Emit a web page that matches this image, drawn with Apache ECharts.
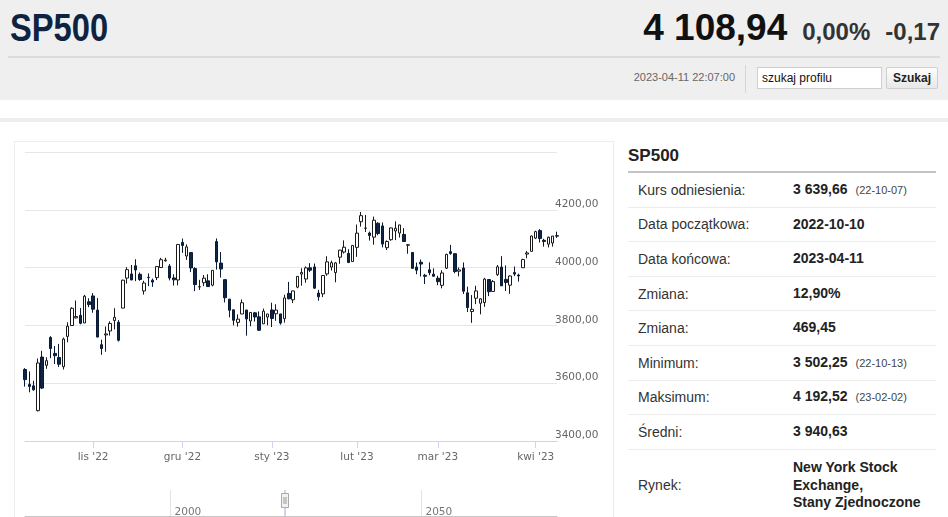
<!DOCTYPE html>
<html lang="pl">
<head>
<meta charset="utf-8">
<title>SP500</title>
<script src="https://cdn.jsdelivr.net/npm/echarts@6/dist/echarts.min.js"></script>
<style>
  body { margin: 0; background: #fff; font-family: "Liberation Sans", Arial, sans-serif; }
  #page { position: relative; width: 948px; height: 517px; overflow: hidden; }
  #hdr { position: absolute; left: 0; top: 0; width: 948px; height: 100px; background: #efefef; }
  #name { position: absolute; left: 10px; top: 9px; font: bold 38px/38px "Liberation Sans", sans-serif; color: #0d2340; transform: scaleX(0.86); transform-origin: left center; }
  #quote { position: absolute; right: 8px; top: 7px; white-space: nowrap; line-height: 42px; color: #333; }
  #quote .price { font: bold 37px "Liberation Sans", sans-serif; color: #111; }
  #quote .chg { font: bold 24px "Liberation Sans", sans-serif; margin-left: 15px; }
  #hline { position: absolute; left: 8px; top: 56px; width: 932px; height: 2px; background: #dcdcdc; }
  #stamp { position: absolute; right: 213px; top: 71px; font-size: 11px; color: #666; }
  #sep { position: absolute; left: 745px; top: 65px; width: 1px; height: 28px; background: #d5d5d5; }
  #search { position: absolute; left: 757px; top: 67px; width: 119px; height: 20px; border: 1px solid #cfcfcf; background: #fff; font-size: 12px; line-height: 20px; padding-left: 4px; color: #111; }
  #btn { position: absolute; left: 886px; top: 67px; width: 50px; height: 20px; border: 1px solid #cfcfcf; background: linear-gradient(#fdfdfd, #e8e8e8); font: bold 12px/20px "Liberation Sans", sans-serif; text-align: center; color: #222; border-radius: 2px; }
  #band { position: absolute; left: 0; top: 118px; width: 948px; height: 4px; background: #eeeeee; }
  #box { position: absolute; left: 14px; top: 141px; width: 598px; height: 400px; border: 1px solid #ececec; }
  #chart { position: absolute; left: 15px; top: 142px; width: 597px; height: 375px; }
  #info { position: absolute; left: 628px; top: 140px; width: 308px; }
  #info .ttl { height: 31px; line-height: 31px; font-weight: bold; font-size: 17px; color: #222; border-bottom: 2px solid #c4c4c4; }
  #info .row { display: flex; align-items: center; height: 33.6px; border-bottom: 1px solid #ececec; font-size: 14px; }
  #info .row.tall { height: 71px; border-bottom: none; }
  #info .lab { width: 155px; padding-left: 10px; color: #333; }
  #info .val { font-weight: bold; color: #222; line-height: 17.5px; }
  #info .val small { font-weight: normal; font-size: 11px; color: #444; margin-left: 8px; }
</style>
</head>
<body>
<div id="page">
  <div id="hdr">
    <div id="name">SP500</div>
    <div id="quote"><span class="price">4 108,94</span><span class="chg">0,00%</span><span class="chg">-0,17</span></div>
    <div id="hline"></div>
    <div id="stamp">2023-04-11 22:07:00</div>
    <div id="sep"></div>
    <div id="search">szukaj profilu</div>
    <div id="btn">Szukaj</div>
  </div>
  <div id="band"></div>
  <div id="box"></div>
  <div id="chart"></div>
  <div id="info">
    <div class="ttl">SP500</div>
    <div class="row"><div class="lab">Kurs odniesienia:</div><div class="val">3 639,66<small>(22-10-07)</small></div></div>
    <div class="row"><div class="lab">Data początkowa:</div><div class="val">2022-10-10</div></div>
    <div class="row"><div class="lab">Data końcowa:</div><div class="val">2023-04-11</div></div>
    <div class="row"><div class="lab">Zmiana:</div><div class="val">12,90%</div></div>
    <div class="row"><div class="lab">Zmiana:</div><div class="val">469,45</div></div>
    <div class="row"><div class="lab">Minimum:</div><div class="val">3 502,25<small>(22-10-13)</small></div></div>
    <div class="row"><div class="lab">Maksimum:</div><div class="val">4 192,52<small>(23-02-02)</small></div></div>
    <div class="row"><div class="lab">Średni:</div><div class="val">3 940,63</div></div>
    <div class="row tall"><div class="lab">Rynek:</div><div class="val">New York Stock<br>Exchange,<br>Stany Zjednoczone</div></div>
  </div>
</div>
<script>
// sesje
var dates = [
  '2022-10-10','2022-10-11','2022-10-12','2022-10-13','2022-10-14','2022-10-17','2022-10-18','2022-10-19','2022-10-20','2022-10-21',
  '2022-10-24','2022-10-25','2022-10-26','2022-10-27','2022-10-28','2022-10-31',
  '2022-11-01','2022-11-02','2022-11-03','2022-11-04','2022-11-07','2022-11-08','2022-11-09','2022-11-10','2022-11-11','2022-11-14',
  '2022-11-15','2022-11-16','2022-11-17','2022-11-18','2022-11-21','2022-11-22','2022-11-23','2022-11-25','2022-11-28','2022-11-29','2022-11-30',
  '2022-12-01','2022-12-02','2022-12-05','2022-12-06','2022-12-07','2022-12-08','2022-12-09','2022-12-12','2022-12-13','2022-12-14',
  '2022-12-15','2022-12-16','2022-12-19','2022-12-20','2022-12-21','2022-12-22','2022-12-23','2022-12-27','2022-12-28','2022-12-29','2022-12-30',
  '2023-01-03','2023-01-04','2023-01-05','2023-01-06','2023-01-09','2023-01-10','2023-01-11','2023-01-12','2023-01-13','2023-01-17',
  '2023-01-18','2023-01-19','2023-01-20','2023-01-23','2023-01-24','2023-01-25','2023-01-26','2023-01-27','2023-01-30','2023-01-31',
  '2023-02-01','2023-02-02','2023-02-03','2023-02-06','2023-02-07','2023-02-08','2023-02-09','2023-02-10','2023-02-13','2023-02-14',
  '2023-02-15','2023-02-16','2023-02-17','2023-02-21','2023-02-22','2023-02-23','2023-02-24','2023-02-27','2023-02-28',
  '2023-03-01','2023-03-02','2023-03-03','2023-03-06','2023-03-07','2023-03-08','2023-03-09','2023-03-10','2023-03-13','2023-03-14',
  '2023-03-15','2023-03-16','2023-03-17','2023-03-20','2023-03-21','2023-03-22','2023-03-23','2023-03-24','2023-03-27','2023-03-28',
  '2023-03-29','2023-03-30','2023-03-31',
  '2023-04-03','2023-04-04','2023-04-05','2023-04-06','2023-04-10','2023-04-11'
];
var openVals = [
  3647.51,3595.86,3590.83,3505.00,3690.41,3662.00,3758.00,3703.11,3689.05,3657.10,
  3762.01,3799.44,3825.97,3834.69,3808.26,3881.85,
  3901.79,3852.90,3733.25,3766.98,3780.71,3817.02,3810.94,3859.89,3963.72,3977.97,
  4006.41,3976.82,3919.26,3966.39,3956.23,3965.51,4000.30,4023.34,4005.36,3964.19,3957.18,
  4087.14,4040.17,4052.02,3996.63,3933.28,3947.79,3954.17,3939.29,4090.00,4015.54,
  3958.37,3890.91,3853.79,3810.47,3839.49,3853.26,3815.11,3843.34,3829.56,3805.45,3829.06,
  3853.29,3840.36,3839.74,3823.37,3910.82,3888.57,3932.35,3977.57,3960.60,3999.28,
  4002.25,3911.84,3909.04,3978.14,4001.74,3982.71,4036.08,4053.72,4049.27,4020.85,
  4070.07,4158.68,4136.69,4119.57,4105.35,4153.47,4144.25,4068.92,4096.62,4126.70,
  4119.50,4114.75,4077.39,4052.35,4001.83,4018.60,3973.24,3992.36,3977.19,
  3963.34,3938.68,3998.02,4055.15,4048.26,3987.55,3998.66,3912.77,3848.00,3894.01,
  3876.74,3878.93,3958.69,3917.47,3975.89,4002.04,3959.21,3939.21,3982.93,3974.13,
  3999.53,4046.74,4056.18,
  4102.20,4128.03,4094.50,4081.15,4085.20,4110.29
];
var closeVals = [
  3612.39,3588.84,3577.03,3669.91,3583.07,3677.95,3719.98,3695.16,3665.78,3752.75,
  3797.34,3859.11,3830.60,3807.30,3901.06,3871.98,
  3856.10,3759.69,3719.89,3770.55,3806.80,3828.11,3748.57,3956.37,3992.93,3957.25,
  3991.73,3958.79,3946.56,3965.34,3949.94,4003.58,4027.26,4026.12,3963.94,3957.63,4080.11,
  4076.57,4071.70,3998.84,3941.26,3933.92,3963.51,3934.38,3990.56,4019.65,3995.32,
  3895.75,3852.36,3817.66,3821.62,3878.44,3822.39,3844.82,3829.25,3783.22,3849.28,3839.50,
  3824.14,3852.97,3808.10,3895.08,3892.09,3919.25,3969.61,3983.17,3999.09,3990.97,
  3928.86,3898.85,3972.61,4019.81,4016.95,4016.22,4060.43,4070.56,4017.77,4076.60,
  4119.21,4179.76,4136.48,4111.08,4164.00,4117.86,4081.50,4090.46,4137.29,4136.13,
  4147.60,4090.41,4079.09,3997.34,3991.05,4012.32,3970.04,3982.24,3970.15,
  3951.39,3981.35,4045.64,4048.42,3986.37,3992.01,3918.32,3861.59,3855.76,3919.29,
  3891.93,3960.28,3916.64,3951.57,4002.87,3936.97,3948.72,3970.99,3977.53,3971.27,
  4027.81,4050.83,4109.31,
  4124.51,4100.60,4090.38,4105.02,4109.11,4108.94
];
var lowVals = [
  3588.10,3568.45,3573.86,3502.25,3579.68,3650.00,3686.53,3666.51,3656.44,3647.42,
  3741.65,3799.44,3824.07,3803.79,3808.26,3863.18,
  3843.80,3758.68,3698.15,3708.84,3764.70,3786.28,3744.22,3859.89,3944.82,3956.40,
  3953.17,3954.34,3906.54,3935.98,3933.34,3956.88,3998.66,4020.76,3955.77,3937.65,3938.58,
  4050.87,4026.63,3984.49,3918.39,3922.68,3935.83,3933.04,3935.30,3993.03,3965.65,
  3879.45,3827.91,3800.04,3795.62,3839.49,3764.49,3797.01,3813.22,3780.78,3805.45,3800.34,
  3794.33,3815.77,3802.42,3809.56,3890.42,3877.29,3928.54,3937.56,3947.67,3984.57,
  3926.59,3885.54,3897.86,3971.64,3989.79,3949.06,4013.29,4048.70,4015.55,4020.44,
  4037.20,4141.88,4123.36,4093.38,4079.20,4111.67,4069.67,4060.79,4092.67,4095.01,
  4103.98,4089.49,4047.95,3995.19,3976.90,3969.19,3943.08,3973.55,3968.98,
  3939.05,3928.16,3995.17,4044.61,3980.31,3969.76,3908.70,3846.32,3808.86,3873.63,
  3838.24,3864.11,3901.27,3916.89,3971.19,3936.17,3919.05,3909.16,3970.49,3951.53,
  3999.53,4032.10,4056.18,
  4098.79,4086.87,4072.56,4069.84,4072.55,4102.61
];
var highVals = [
  3652.17,3640.66,3608.34,3685.41,3712.00,3689.73,3762.79,3728.58,3736.00,3757.89,
  3810.74,3862.85,3886.15,3859.95,3905.42,3893.73,
  3911.79,3894.44,3750.59,3796.34,3813.95,3859.40,3818.20,3958.33,4001.48,4008.97,
  4028.84,3983.09,3954.33,3979.89,3962.00,4005.88,4033.78,4034.02,4012.27,3976.77,4080.11,
  4100.51,4080.48,4052.45,4001.51,3957.57,3974.19,3977.02,3990.71,4100.96,4053.76,
  3958.37,3890.91,3854.86,3838.24,3889.82,3853.26,3845.80,3846.65,3848.32,3858.19,3839.85,
  3878.46,3873.16,3839.74,3906.19,3950.57,3919.83,3970.07,3997.76,4003.95,4015.39,
  4014.16,3922.94,3972.96,4039.31,4023.92,4019.55,4061.57,4094.21,4063.85,4077.16,
  4148.95,4192.52,4182.36,4124.63,4176.54,4156.85,4156.23,4094.36,4138.90,4159.77,
  4148.11,4136.54,4081.51,4052.35,4017.37,4028.30,3978.25,4018.05,3997.50,
  3971.73,3990.84,4048.29,4078.49,4050.00,4000.41,4017.81,3934.05,3905.05,3937.29,
  3894.26,3964.46,3958.91,3956.62,4009.08,4039.49,4007.66,3972.74,4003.83,3979.20,
  4030.59,4057.85,4110.75,
  4127.66,4133.13,4099.69,4107.32,4109.50,4124.26
];
var monthNames = ['sty','lut','mar','kwi','maj','cze','lip','sie','wrz','paź','lis','gru'];
var yMin = 3400, yMax = 4400, yStep = 200;
var navYears = [2000, 2050];
var navMin = 1971, navMax = 2077;

var candles = [];
for (var i = 0; i < dates.length; i++) {
    candles.push([openVals[i], closeVals[i], lowVals[i], highVals[i]]);
}

function isMonthStart(idx) {
    return idx > 0 && dates[idx].slice(5, 7) !== dates[idx - 1].slice(5, 7);
}

var axisFont = 'DejaVu Sans';
var chart = echarts.init(document.getElementById('chart'));
chart.setOption({
    animation: false,
    grid: [
        {left: 10, right: 55, top: 10, bottom: 76},
        {left: 10, right: 55, top: 348, height: 27}
    ],
    xAxis: [
        {
            type: 'category',
            data: dates,
            boundaryGap: false,
            axisLine: {lineStyle: {color: '#ccd6eb'}},
            axisTick: {interval: isMonthStart, length: 7, lineStyle: {color: '#ccd6eb'}},
            axisLabel: {
                interval: isMonthStart,
                margin: 11,
                color: '#666',
                fontFamily: axisFont,
                fontSize: 10.5,
                formatter: function (v) {
                    return monthNames[parseInt(v.slice(5, 7), 10) - 1] + " '" + v.slice(2, 4);
                }
            },
            splitLine: {show: false}
        },
        {
            type: 'value',
            gridIndex: 1,
            position: 'top',
            min: navMin,
            max: navMax,
            splitNumber: 2,
            axisLine: {lineStyle: {color: '#c6c6c6'}},
            axisTick: {show: false},
            splitLine: {show: false},
            axisLabel: {
                inside: true,
                margin: 17,
                align: 'left',
                padding: [0, 0, 0, 4],
                color: '#777',
                fontFamily: axisFont,
                fontSize: 10.5,
                formatter: function (v) { return navYears.indexOf(v) >= 0 ? String(v) : ''; }
            }
        }
    ],
    yAxis: [
        {
            type: 'value',
            position: 'right',
            min: yMin,
            max: yMax,
            interval: yStep,
            axisLine: {show: false},
            axisTick: {show: false},
            splitLine: {lineStyle: {color: '#e6e6e6'}},
            axisLabel: {
                margin: -2,
                verticalAlign: 'bottom',
                color: '#666',
                fontFamily: axisFont,
                fontSize: 10.5,
                formatter: function (v) {
                    if (v === yMax) return '';
                    return v.toFixed(2).replace('.', ',');
                }
            }
        },
        {type: 'value', gridIndex: 1, min: 0, max: 1, show: false}
    ],
    series: [
        {
            type: 'candlestick',
            data: candles,
            barWidth: 3,
            itemStyle: {
                color: '#ffffff',
                color0: '#0e2646',
                borderColor: '#1a1a1a',
                borderColor0: '#0a1a33',
                borderWidth: 1
            }
        },
        {
            // linie nawigatora
            type: 'line',
            xAxisIndex: 1,
            yAxisIndex: 1,
            data: [],
            silent: true,
            markLine: {
                silent: true,
                symbol: 'none',
                label: {show: false},
                lineStyle: {color: '#e3e3e3', type: 'solid', width: 1},
                data: navYears.map(function (y) { return {xAxis: y}; })
            }
        }
    ],
    graphic: [
        {type: 'line', shape: {x1: 270, y1: 348, x2: 270, y2: 375}, style: {stroke: '#ccd6eb', lineWidth: 2}},
        {type: 'rect', shape: {x: 266.5, y: 351.5, width: 7, height: 14}, style: {fill: '#f2f2f2', stroke: '#aaa', lineWidth: 1}},
        {type: 'line', shape: {x1: 269, y1: 355, x2: 269, y2: 362}, style: {stroke: '#999', lineWidth: 1}},
        {type: 'line', shape: {x1: 271, y1: 355, x2: 271, y2: 362}, style: {stroke: '#999', lineWidth: 1}}
    ]
});
</script>
</body>
</html>
